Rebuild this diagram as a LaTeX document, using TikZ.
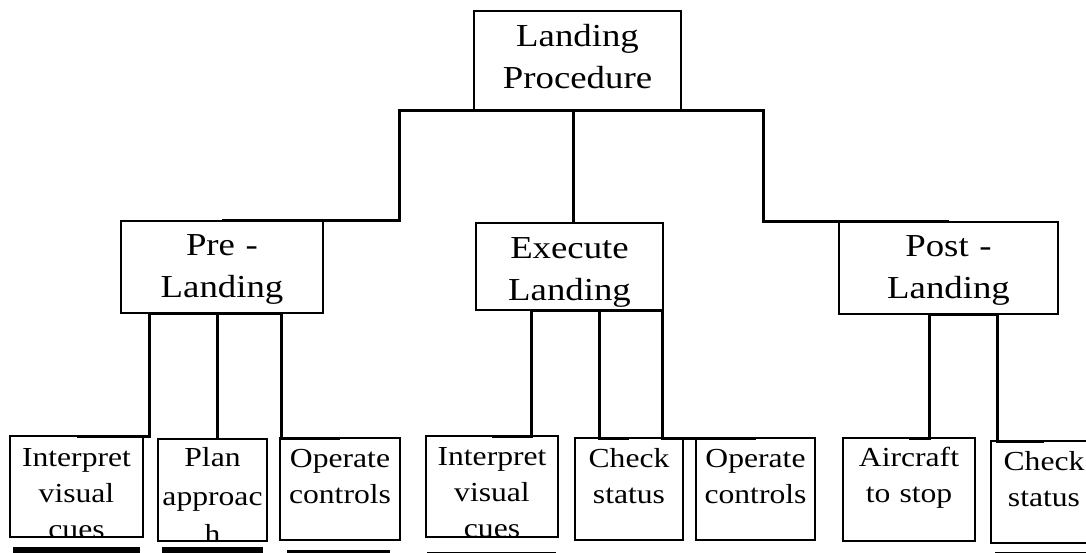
\documentclass[tikz,border=0pt]{standalone}
\usepackage{fontspec}
\setmainfont{Liberation Serif}[FakeStretch=1.15]
\begin{document}
\begin{tikzpicture}[x=1pt, y=-1pt,
  box/.style={draw, line width=1.2pt, inner sep=0pt, outer sep=0pt, anchor=north west},
  lbl/.style={inner sep=0pt, outer sep=0pt, align=center, anchor=base},
  bigtxt/.style={lbl, font=\fontsize{32pt}{42pt}\selectfont},
  smalltxt/.style={lbl, font=\fontsize{27.5pt}{36pt}\selectfont},
  conn/.style={line width=3pt, line join=miter}]

\useasboundingbox (0,0) rectangle (1086,553);
\fill[white] (0,0) rectangle (1086,553);
\clip (0,0) rectangle (1086,553);

% ---------- top level ----------
\node[box, minimum width=207pt, minimum height=100pt] (root) at (474,11) {};
\node[bigtxt, text width=207pt] (rootT) at ([yshift=-35.7pt]root.north) {Landing\\Procedure};

% ---------- phase level ----------
\node[box, minimum width=202pt, minimum height=92pt] (pre)  at (121,221) {};
\node[box, minimum width=187pt, minimum height=87pt] (exec) at (476,223) {};
\node[box, minimum width=219pt, minimum height=92pt] (post) at (839,222) {};
\node[bigtxt, text width=202pt] (preT)  at ([yshift=-34.7pt]pre.north)  {Pre -\\Landing};
\node[bigtxt, text width=187pt] (execT) at ([yshift=-35.3pt]exec.north) {Execute\\Landing};
\node[bigtxt, text width=219pt] (postT) at ([yshift=-34.7pt]post.north) {Post -\\Landing};

% ---------- task level ----------
\node[box, minimum width=133pt, minimum height=101pt] (int1) at (10,436)  {};
\node[box, minimum width=109pt, minimum height=102pt] (plan) at (158,439) {};
\node[box, minimum width=120pt, minimum height=102pt] (op1)  at (280,438) {};
\node[box, minimum width=132pt, minimum height=101pt] (int2) at (426,436) {};
\node[box, minimum width=108pt, minimum height=102pt] (chk1) at (575,438) {};
\node[box, minimum width=119pt, minimum height=102pt] (op2)  at (696,438) {};
\node[box, minimum width=132pt, minimum height=103pt] (air)  at (843,438) {};
\node[box, minimum width=106pt, minimum height=102pt] (chk2) at (991,441) {};

% task labels, cut off at the lower edge of their boxes
\begin{scope}
  \clip (int1.south west) rectangle (int1.north east);
  \node[smalltxt, text width=133pt] (int1T) at ([yshift=-30.5pt]int1.north) {Interpret\\visual\\cues};
\end{scope}
\begin{scope}
  \clip (plan.south west) rectangle (plan.north east);
  \node[smalltxt, text width=109pt, font=\fontsize{27.5pt}{38.5pt}\selectfont] (planT) at ([yshift=-27.7pt]plan.north) {Plan\\approac\\h};
\end{scope}
\begin{scope}
  \clip (op1.south west) rectangle (op1.north east);
  \node[smalltxt, text width=120pt] (op1T) at ([yshift=-29pt]op1.north) {Operate\\controls};
\end{scope}
\begin{scope}
  \clip (int2.south west) rectangle (int2.north east);
  \node[smalltxt, text width=132pt] (int2T) at ([yshift=-29.7pt]int2.north) {Interpret\\visual\\cues};
\end{scope}
\begin{scope}
  \clip (chk1.south west) rectangle (chk1.north east);
  \node[smalltxt, text width=108pt] (chk1T) at ([yshift=-29.7pt]chk1.north) {Check\\status};
\end{scope}
\begin{scope}
  \clip (op2.south west) rectangle (op2.north east);
  \node[smalltxt, text width=119pt] (op2T) at ([yshift=-29pt]op2.north) {Operate\\controls};
\end{scope}
\begin{scope}
  \clip (air.south west) rectangle (air.north east);
  \node[smalltxt, text width=132pt] (airT) at ([yshift=-28.7pt]air.north) {Aircraft\\to stop};
\end{scope}
\begin{scope}
  \clip (chk2.south west) rectangle (chk2.north east);
  \node[smalltxt, text width=106pt] (chk2T) at ([yshift=-29pt]chk2.north) {Check\\status};
\end{scope}

% upper edges of the next row of boxes
\fill (13,547)    rectangle (140,556);
\fill (162,547)   rectangle (263,556);
\fill (287,550)   rectangle (390,556);
\fill (427,551.5) rectangle (556,556);
\fill (995,551.5) rectangle (1090,556);

% ---------- branch positions ----------
\coordinate (bL) at (399,0);
\coordinate (bM) at (573,0);
\coordinate (bR) at (763,0);
\coordinate (p1) at (149,0);
\coordinate (p2) at (217,0);
\coordinate (p3) at (281,0);
\coordinate (e1) at (531,0);
\coordinate (e2) at (599,0);
\coordinate (e3) at (662,0);
\coordinate (q1) at (929,0);
\coordinate (q2) at (997,0);

% ---------- connectors ----------
\draw[conn] (pre.north) -| (root.south -| bL) -- (root.south -| bR) |- (post.north);
\draw[conn] (root.south -| bM) -- (exec.north -| bM);

\draw[conn] (int1.north) -| (pre.south -| p1) -- (pre.south -| p3) |- (op1.north);
\draw[conn] (pre.south -| p2) -- (plan.north -| p2);

\draw[conn] (int2.north) -| (exec.south -| e1) -- (exec.south -| e3) |- (op2.north);
\draw[conn] (exec.south -| e2) |- (chk1.north);

\draw[conn] (air.north) -| (post.south -| q1) -- (post.south -| q2) |- (chk2.north);
\end{tikzpicture}
\end{document}
